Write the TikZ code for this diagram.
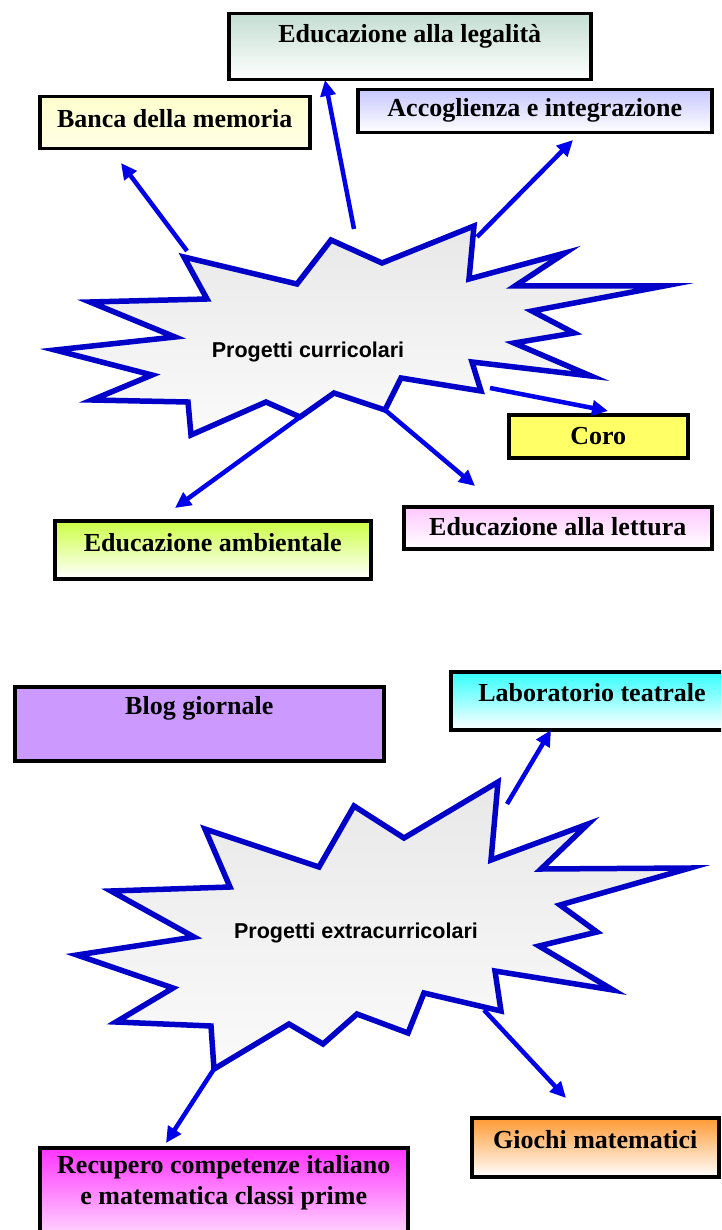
\documentclass[tikz,border=0pt]{standalone}
\usepackage{fontspec}
\setmainfont{Liberation Serif}
\newfontfamily\arialfont{Liberation Sans}
\usetikzlibrary{arrows.meta,calc}
\definecolor{starblue}{RGB}{0,0,200}
\definecolor{arrblue}{RGB}{0,0,235}
\definecolor{legtop}{RGB}{196,222,210}
\definecolor{bancatop}{RGB}{255,255,205}
\definecolor{acctop}{RGB}{200,200,255}
\definecolor{corofill}{RGB}{255,255,102}
\definecolor{ambtop}{RGB}{204,255,68}
\definecolor{letttop}{RGB}{255,200,255}
\definecolor{blogfill}{RGB}{204,153,255}
\definecolor{labtop}{RGB}{51,255,255}
\definecolor{giotop}{RGB}{255,153,51}
\definecolor{rectop}{RGB}{255,51,255}
\definecolor{startop}{RGB}{232,232,232}
\definecolor{starbot}{RGB}{250,250,250}
\begin{document}
\begin{tikzpicture}[x=1pt,y=-1pt,
  box/.style={draw=black,line width=3.5pt,inner sep=0pt,anchor=north west},
  lbl/.style={font=\bfseries\fontsize{26}{31}\selectfont,inner sep=0pt,align=center},
  starline/.style={draw=starblue,line width=5.5pt,line join=miter,miter limit=12,top color=startop,bottom color=starbot},
  conn/.style={draw=arrblue,line width=4.5pt,-{Triangle[length=16pt,width=15pt]}},
  stxt/.style={font=\arialfont\bfseries\fontsize{21.5}{25}\selectfont,inner sep=0pt}]
\useasboundingbox (0,0) rectangle (721,1230);
\clip (0,0) rectangle (721,1230);

% ---------- top star ----------
\coordinate (t1) at (184,257);
\coordinate (t2) at (297,284);
\coordinate (t3) at (331,240);
\coordinate (t4) at (382,263);
\coordinate (t5) at (474,226);
\coordinate (t6) at (469,279);
\coordinate (t7) at (565,253);
\coordinate (t8) at (515,286);
\coordinate (t9) at (664,286);
\coordinate (t10) at (532,311);
\coordinate (t11) at (574,333);
\coordinate (t12) at (514,343);
\coordinate (t13) at (591,376);
\coordinate (t14) at (472,362);
\coordinate (t15) at (481,391);
\coordinate (t16) at (401,378);
\coordinate (t17) at (385,410);
\coordinate (t18) at (334,393);
\coordinate (t19) at (300,417);
\coordinate (t20) at (266,402);
\coordinate (t21) at (191,435);
\coordinate (t22) at (188,402);
\coordinate (t23) at (92,400);
\coordinate (t24) at (152,375);
\coordinate (t25) at (55,350);
\coordinate (t26) at (175,337);
\coordinate (t27) at (90,302);
\coordinate (t28) at (207,299);
\draw[starline] (t1)--(t2)--(t3)--(t4)--(t5)--(t6)--(t7)--(t8)--(t9)--(t10)--(t11)--(t12)--(t13)--(t14)--(t15)--(t16)--(t17)--(t18)--(t19)--(t20)--(t21)--(t22)--(t23)--(t24)--(t25)--(t26)--(t27)--(t28)--cycle;
\node[stxt] (curr) at (308,352) {Progetti curricolari};

% ---------- top boxes ----------
\node[box,minimum width=362pt,minimum height=66pt,top color=legtop,bottom color=white] (leg) at (227,12) {};
\node[lbl] (legT) at ($(leg.north)+(0,24)$) {Educazione alla legalità};
\node[box,minimum width=270pt,minimum height=52pt,top color=bancatop,bottom color=bancatop!50!white] (banca) at (38,95) {};
\node[lbl] (bancaT) at ($(banca.north)+(0,24)$) {Banca della memoria};
\node[box,minimum width=354pt,minimum height=43pt,top color=acctop,bottom color=white] (acc) at (356,88) {};
\node[lbl] (accT) at ($(acc.north)+(0,22)$) {Accoglienza e integrazione};
\node[box,minimum width=179pt,minimum height=43pt,fill=corofill] (coro) at (507,413) {};
\node[lbl] (coroT) at (coro.center) {Coro};
\node[box,minimum width=316pt,minimum height=58pt,top color=ambtop,bottom color=white] (amb) at (53,519) {};
\node[lbl] (ambT) at ($(amb.north)+(0,24)$) {Educazione ambientale};
\node[box,minimum width=308pt,minimum height=42pt,top color=letttop,bottom color=white] (lett) at (402,505) {};
\node[lbl] (lettT) at ($(lett.north)+(0,22)$) {Educazione alla lettura};

% ---------- top arrows ----------
\coordinate (bs) at (187,251);  \coordinate (be) at (121,163);
\coordinate (ls) at (354,229);  \coordinate (le) at (325,80);
\coordinate (as) at (477,237);  \coordinate (ae) at (573,140);
\coordinate (cs) at (490,388);  \coordinate (ce) at (608,411);
\coordinate (me) at (175,508);
\coordinate (re) at (475,486);
\draw[conn] (bs) -- (be);
\draw[conn] (ls) -- (le);
\draw[conn] (as) -- (ae);
\draw[conn] (cs) -- (ce);
\draw[conn] (t19) -- (me);
\draw[conn] (t17) -- (re);

% ---------- bottom star ----------
\coordinate (b1) at (205,829);
\coordinate (b2) at (319,867);
\coordinate (b3) at (354,806);
\coordinate (b4) at (404,838);
\coordinate (b5) at (498,782);
\coordinate (b6) at (491,860);
\coordinate (b7) at (588,824);
\coordinate (b8) at (541,869);
\coordinate (b9) at (690,868);
\coordinate (b10) at (560,905);
\coordinate (b11) at (597,932);
\coordinate (b12) at (539,946);
\coordinate (b13) at (613,990);
\coordinate (b14) at (495,971);
\coordinate (b15) at (501,1011);
\coordinate (b16) at (424,993);
\coordinate (b17) at (408,1033);
\coordinate (b18) at (357,1014);
\coordinate (b19) at (323,1044);
\coordinate (b20) at (289,1024);
\coordinate (b21) at (214,1069);
\coordinate (b22) at (211,1026);
\coordinate (b23) at (116,1022);
\coordinate (b24) at (173,988);
\coordinate (b25) at (77,955);
\coordinate (b26) at (194,937);
\coordinate (b27) at (111,891);
\coordinate (b28) at (230,887);
\draw[starline] (b1)--(b2)--(b3)--(b4)--(b5)--(b6)--(b7)--(b8)--(b9)--(b10)--(b11)--(b12)--(b13)--(b14)--(b15)--(b16)--(b17)--(b18)--(b19)--(b20)--(b21)--(b22)--(b23)--(b24)--(b25)--(b26)--(b27)--(b28)--cycle;
\node[stxt] (extra) at (356,933) {Progetti extracurricolari};

% ---------- bottom boxes ----------
\node[box,minimum width=369pt,minimum height=74pt,fill=blogfill] (blog) at (13,685) {};
\node[lbl] (blogT) at ($(blog.north)+(0,23)$) {Blog giornale};
\node[box,minimum width=280pt,minimum height=58pt,top color=labtop,bottom color=white] (lab) at (449,670) {};
\node[lbl] (labT) at (592,693) {Laboratorio teatrale};
\node[box,minimum width=247pt,minimum height=59pt,top color=giotop,bottom color=white] (gio) at (470,1116) {};
\node[lbl] (gioT) at ($(gio.north)+(0,24)$) {Giochi matematici};
\node[box,minimum width=368pt,minimum height=110pt,top color=rectop,bottom color=white] (rec) at (38,1146) {};
\node[lbl,anchor=north] (recT) at ($(rec.north)+(0,9)$) {Recupero competenze italiano\\e matematica classi prime};

% ---------- bottom arrows ----------
\coordinate (labs) at (507,804); \coordinate (labe) at (551,730);
\coordinate (gios) at (484,1010); \coordinate (gioe) at (566,1098);
\coordinate (rece) at (166,1143);
\draw[conn] (labs) -- (labe);
\draw[conn] (gios) -- (gioe);
\draw[conn] (b21) -- (rece);
\end{tikzpicture}
\end{document}
